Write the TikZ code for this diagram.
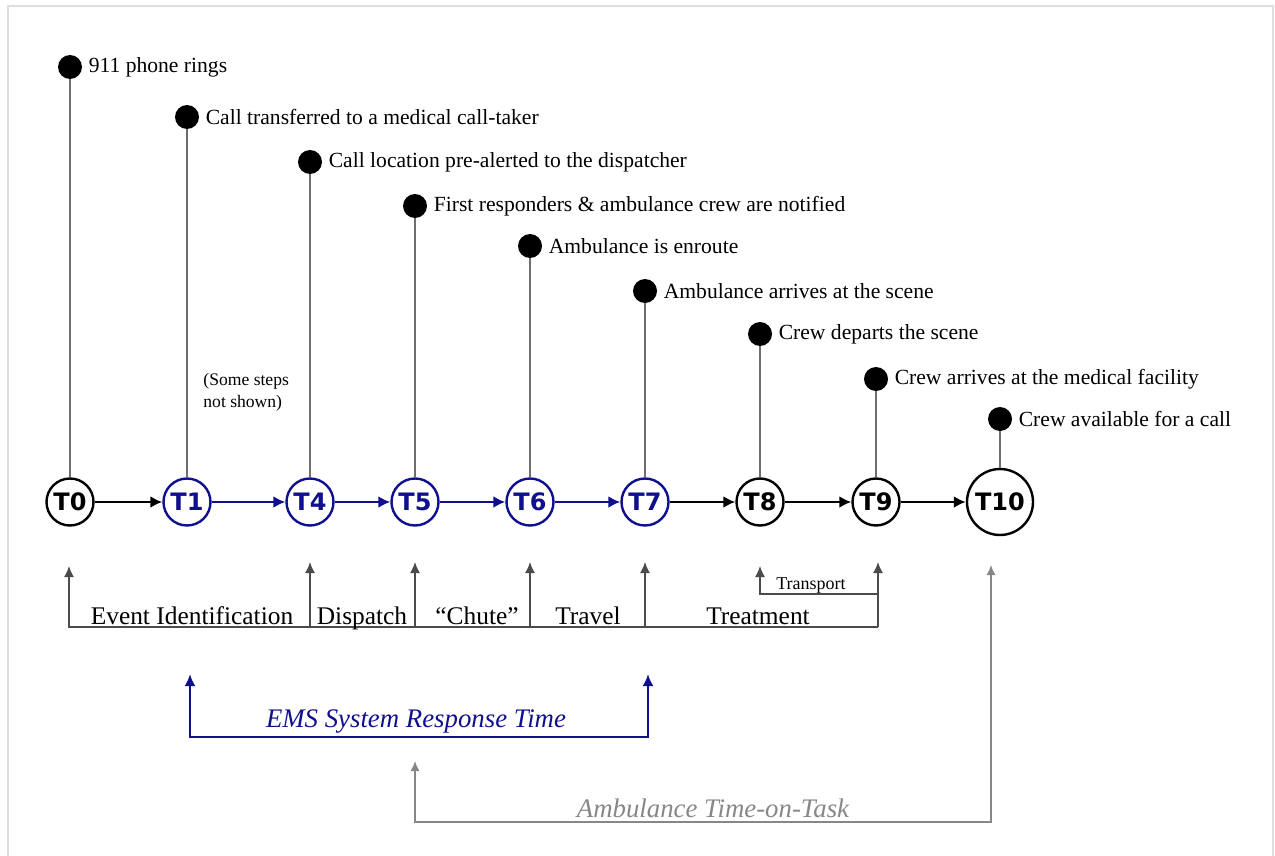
\documentclass[tikz,border=0pt]{standalone}
\usepackage{fontspec}
\setmainfont{Liberation Serif}
\newfontfamily\tfont{DejaVu Sans}
\usepackage{tikz}
\usetikzlibrary{positioning, arrows.meta}
\definecolor{emsblue}{RGB}{16,16,140}
\definecolor{stemgray}{RGB}{110,110,110}
\definecolor{phasegray}{RGB}{75,75,75}
\definecolor{taskgray}{RGB}{135,135,135}
\definecolor{framegray}{RGB}{222,222,222}
\tikzstyle{tnode}=[%
      circle, draw=black, line width=1.2pt, fill=white, text=black,
      minimum size=23.5pt, inner sep=0pt, font=\tfont\bfseries\fontsize{12}{12}\selectfont
]
\tikzstyle{tblue}=[tnode, draw=emsblue, text=emsblue]
\tikzstyle{evdot}=[circle, fill=black, minimum size=12pt, inner sep=0pt]
\tikzstyle{evlabel}=[inner sep=0pt, font=\fontsize{10.8}{13}\selectfont]
\tikzstyle{stemline}=[draw=stemgray, line width=0.7pt]
\tikzstyle{flow}=[draw=black, line width=1.2pt, -{Latex[length=6pt,width=6pt]}]
\tikzstyle{flowblue}=[flow, draw=emsblue, -{Latex[length=6pt,width=6pt,color=emsblue]}]
\tikzstyle{phase}=[draw=phasegray, line width=0.7pt, -{Latex[length=5.5pt,width=5pt]}]
\tikzstyle{phaselabel}=[anchor=base, inner sep=0pt, font=\fontsize{12.7}{15}\selectfont]
\tikzstyle{ems}=[draw=emsblue, line width=1.3pt, {Latex[length=6pt,width=5.5pt]}-{Latex[length=6pt,width=5.5pt]}]
\tikzstyle{task}=[draw=taskgray, line width=0.7pt, {Latex[length=5pt,width=4.5pt]}-{Latex[length=5pt,width=4.5pt]}]

\begin{document}
\begin{tikzpicture}[x=0.5pt, y=-0.5pt]
    \useasboundingbox (0,0) rectangle (1275,856);
    \draw[framegray, line width=1pt] (8,856) -- (8,6) -- (1273,6) -- (1273,856);

    % timeline
    \node[tnode] (T0)  at (70,502)  {T0};
    \node[tblue] (T1)  at (187,502) {T1};
    \node[tblue] (T4)  at (310,502) {T4};
    \node[tblue] (T5)  at (415,502) {T5};
    \node[tblue] (T6)  at (530,502) {T6};
    \node[tblue] (T7)  at (645,502) {T7};
    \node[tnode] (T8)  at (760,502) {T8};
    \node[tnode] (T9)  at (876,502) {T9};
    \node[tnode, minimum size=33pt] (T10) at (1000,502) {T10};

    \draw[flow]     (T0) -- (T1);
    \draw[flowblue] (T1) -- (T4);
    \draw[flowblue] (T4) -- (T5);
    \draw[flowblue] (T5) -- (T6);
    \draw[flowblue] (T6) -- (T7);
    \draw[flow]     (T7) -- (T8);
    \draw[flow]     (T8) -- (T9);
    \draw[flow]     (T9) -- (T10);

    % events
    \node[evdot] (d0)  at (70,67)   {};
    \node[evdot] (d1)  at (187,117) {};
    \node[evdot] (d4)  at (310,162) {};
    \node[evdot] (d5)  at (415,206) {};
    \node[evdot] (d6)  at (530,246) {};
    \node[evdot] (d7)  at (645,291) {};
    \node[evdot] (d8)  at (760,334) {};
    \node[evdot] (d9)  at (876,379) {};
    \node[evdot] (d10) at (1000,419) {};

    \node[evlabel] (e0)  [right = 3pt of d0]  {911 phone rings};
    \node[evlabel] (e1)  [right = 3pt of d1]  {Call transferred to a medical call-taker};
    \node[evlabel] (e4)  [right = 3pt of d4]  {Call location pre-alerted to the dispatcher};
    \node[evlabel] (e5)  [right = 3pt of d5]  {First responders \& ambulance crew are notified};
    \node[evlabel] (e6)  [right = 3pt of d6]  {Ambulance is enroute};
    \node[evlabel] (e7)  [right = 3pt of d7]  {Ambulance arrives at the scene};
    \node[evlabel] (e8)  [right = 3pt of d8]  {Crew departs the scene};
    \node[evlabel] (e9)  [right = 3pt of d9]  {Crew arrives at the medical facility};
    \node[evlabel] (e10) [right = 3pt of d10] {Crew available for a call};

    \draw[stemline] (d0) -- (T0);
    \draw[stemline] (d1) -- (T1);
    \draw[stemline] (d4) -- (T4);
    \draw[stemline] (d5) -- (T5);
    \draw[stemline] (d6) -- (T6);
    \draw[stemline] (d7) -- (T7);
    \draw[stemline] (d8) -- (T8);
    \draw[stemline] (d9) -- (T9);
    \draw[stemline] (d10) -- (T10);

    \node[align=left, anchor=north west, inner sep=0pt, font=\fontsize{8.8}{11}\selectfont] (note) at (203,373) {(Some steps\\not shown)};

    % phases
    \coordinate (base0) at (69,627);
    \coordinate (base9) at (878,627);
    \coordinate (tip0) at (69,566);
    \coordinate (tip4) at (310,562);
    \coordinate (tip5) at (415,562);
    \coordinate (tip6) at (530,562);
    \coordinate (tip7) at (645,562);
    \coordinate (tip9) at (878,562);
    \coordinate (tr0) at (760,566);
    \coordinate (tr9) at (878,594);

    \draw[phase] (base9) -- (base0) -- (tip0);
    \draw[phase] (tip4 |- base0) -- (tip4);
    \draw[phase] (tip5 |- base0) -- (tip5);
    \draw[phase] (tip6 |- base0) -- (tip6);
    \draw[phase] (tip7 |- base0) -- (tip7);
    \draw[phase] (base9) -- (tip9);
    \draw[phase] (tr9) -| (tr0);

    \node[phaselabel] (p0) at (192,624) {Event Identification};
    \node[phaselabel] (p4) at (362,624) {Dispatch};
    \node[phaselabel] (p5) at (477,624) {``Chute''};
    \node[phaselabel] (p6) at (588,624) {Travel};
    \node[phaselabel] (p7) at (758,624) {Treatment};
    \node[anchor=base, inner sep=0pt, font=\fontsize{9}{10}\selectfont] (tr) at (811,589) {Transport};

    % response times
    \coordinate (ems0) at (190,674);
    \coordinate (ems1) at (648,674);
    \draw[ems] (ems0) -- ++(0,63) -| (ems1);
    \node[anchor=base, inner sep=0pt, text=emsblue, font=\itshape\fontsize{13.4}{15}\selectfont] (emst) at (416,727) {EMS System Response Time};

    \coordinate (task0) at (415,761);
    \coordinate (task1) at (991,565);
    \draw[task] (task0) -- ++(0,61) -| (task1);
    \node[anchor=base, inner sep=0pt, text=taskgray, font=\itshape\fontsize{13.4}{15}\selectfont] (taskt) at (713,817) {Ambulance Time-on-Task};
\end{tikzpicture}
\end{document}
